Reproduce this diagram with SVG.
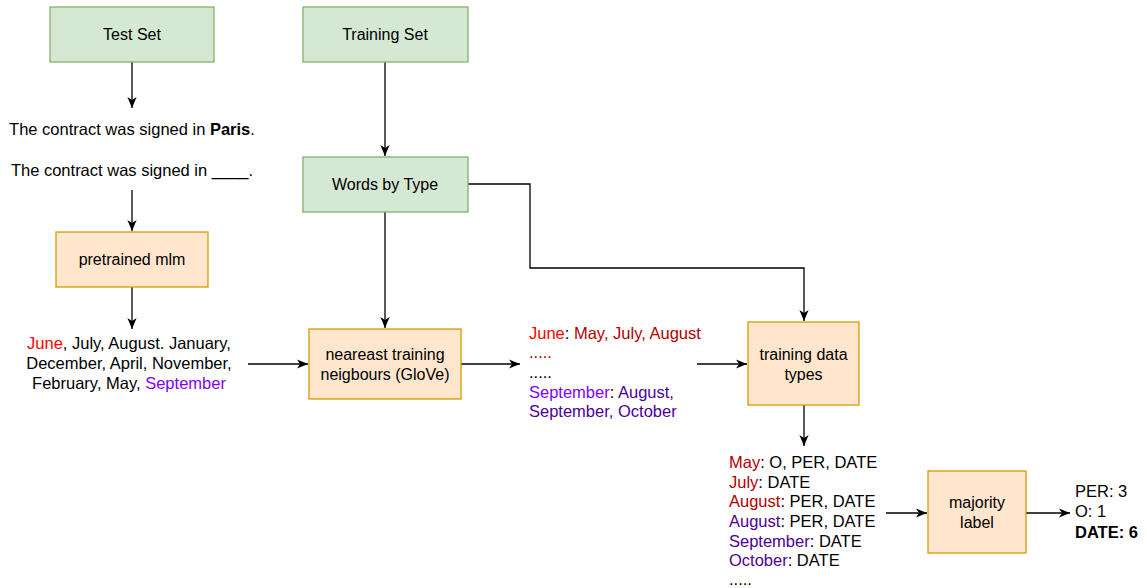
<svg xmlns="http://www.w3.org/2000/svg" width="1147" height="588" viewBox="0 0 1147 588">
  <style>
    text { font-family: "Liberation Sans", Arial, Helvetica, sans-serif; font-size: 16px; fill: #000; }
    .free text { font-size: 16.5px; }
    .c { text-anchor: middle; }
    .green { fill: #d5e8d4; stroke: #82b366; stroke-width: 1.3; }
    .orange { fill: #ffe6cc; stroke: #d79b00; stroke-width: 1.3; }
    .edge { fill: none; stroke: #000; stroke-width: 1.3; marker-end: url(#arr); }
    .red { fill: #ff0000; }
    .dred { fill: #b20000; }
    .purple { fill: #7f00ff; }
    .dpurple { fill: #4c0099; }
    .b { font-weight: bold; }
  </style>
  <defs>
    <marker id="arr" viewBox="0 0 10 10" refX="10" refY="5" markerWidth="11" markerHeight="11" markerUnits="userSpaceOnUse" orient="auto">
      <path d="M0,0.8 L10,5 L0,9.2 L2.8,5 z" fill="#000"/>
    </marker>
  </defs>

  <!-- connectors -->
  <g id="connectors">
    <path class="edge" d="M132,62 V108"/>
    <path class="edge" d="M132,190 V231"/>
    <path class="edge" d="M132,287 V329"/>
    <path class="edge" d="M385,62 V156"/>
    <path class="edge" d="M385,212 V328"/>
    <path class="edge" d="M468,184 H530 V268 H804 V321"/>
    <path class="edge" d="M248,364 H308"/>
    <path class="edge" d="M461,364 H520"/>
    <path class="edge" d="M697,364 H747"/>
    <path class="edge" d="M804,405 V446"/>
    <path class="edge" d="M886,513 H927"/>
    <path class="edge" d="M1026,513 H1070"/>
  </g>

  <!-- boxes -->
  <g id="test-set">
    <rect class="green" x="50" y="7" width="164" height="55"/>
    <text class="c" x="132" y="40">Test Set</text>
  </g>
  <g id="training-set">
    <rect class="green" x="303" y="7" width="165" height="55"/>
    <text class="c" x="385" y="40">Training Set</text>
  </g>
  <g id="words-by-type">
    <rect class="green" x="303" y="157" width="165" height="55"/>
    <text class="c" x="385" y="190">Words by Type</text>
  </g>
  <g id="pretrained-mlm">
    <rect class="orange" x="56" y="232" width="152" height="55"/>
    <text class="c" x="132" y="265">pretrained mlm</text>
  </g>
  <g id="nearest-neighbours">
    <rect class="orange" x="309" y="329" width="152" height="70"/>
    <text class="c" x="385" y="360">neareast training</text>
    <text class="c" x="385" y="380">neigbours (GloVe)</text>
  </g>
  <g id="training-data-types">
    <rect class="orange" x="748" y="322" width="111" height="83"/>
    <text class="c" x="803.5" y="360">training data</text>
    <text class="c" x="803.5" y="380">types</text>
  </g>
  <g id="majority-label">
    <rect class="orange" x="928" y="471" width="98" height="82"/>
    <text class="c" x="977" y="508">majority</text>
    <text class="c" x="977" y="528">label</text>
  </g>

  <g class="free">
    <!-- sentences -->
    <g id="sentences">
      <text class="c" x="132" y="135">The contract was signed in <tspan class="b">Paris</tspan>.</text>
      <text class="c" x="132" y="176">The contract was signed in ____.</text>
    </g>

    <!-- predicted fillers -->
    <g id="predictions">
      <text class="c" x="129" y="349"><tspan class="red">June</tspan>, July, August. January,</text>
      <text class="c" x="129" y="369">December, April, November,</text>
      <text class="c" x="129" y="389">February, May, <tspan class="purple">September</tspan></text>
    </g>

    <!-- neighbour lists -->
    <g id="neighbours">
      <text x="529" y="339"><tspan class="red">June</tspan>: <tspan class="dred">May, July, August</tspan></text>
      <text x="529" y="358" class="dred">.....</text>
      <text x="529" y="378">.....</text>
      <text x="529" y="398"><tspan class="purple">September</tspan>: <tspan class="dpurple">August,</tspan></text>
      <text x="529" y="417" class="dpurple">September, October</text>
    </g>

    <!-- types per word -->
    <g id="type-list">
      <text x="729" y="468"><tspan class="dred">May</tspan>: O, PER, DATE</text>
      <text x="729" y="488"><tspan class="dred">July</tspan>: DATE</text>
      <text x="729" y="507"><tspan class="dred">August</tspan>: PER, DATE</text>
      <text x="729" y="527"><tspan class="dpurple">August</tspan>: PER, DATE</text>
      <text x="729" y="547"><tspan class="dpurple">September</tspan>: DATE</text>
      <text x="729" y="566"><tspan class="dpurple">October</tspan>: DATE</text>
      <text x="729" y="585">.....</text>
    </g>

    <!-- counts -->
    <g id="counts">
      <text x="1075" y="497">PER: 3</text>
      <text x="1075" y="517">O: 1</text>
      <text x="1075" y="538" class="b">DATE: 6</text>
    </g>
  </g>
</svg>
